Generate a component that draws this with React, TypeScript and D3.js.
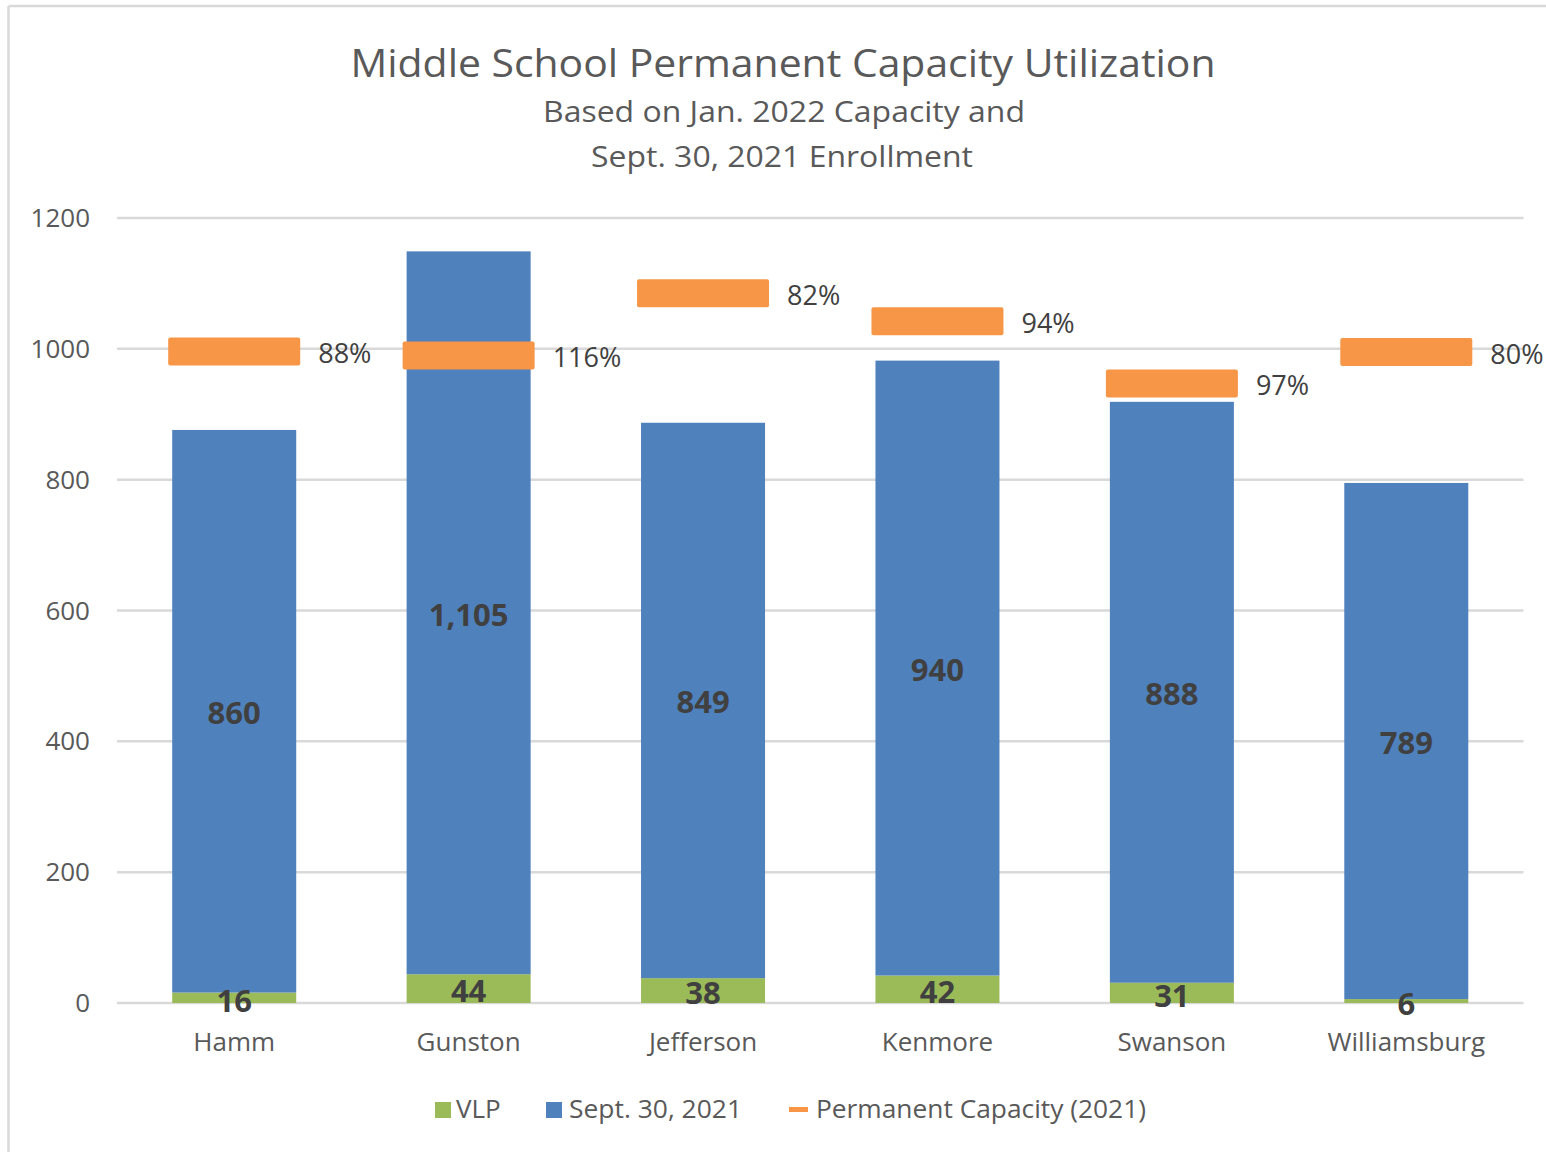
import React from "react";
import * as d3 from "d3";

const categories = ["Hamm", "Gunston", "Jefferson", "Kenmore", "Swanson", "Williamsburg"];
const vlp = [16, 44, 38, 42, 31, 6];
const enrollment = [860, 1105, 849, 940, 888, 789];
const capacity = [996, 990, 1085, 1042, 947, 995];
const utilization = ["88%", "116%", "82%", "94%", "97%", "80%"];
const yTicks = [0, 200, 400, 600, 800, 1000, 1200];

const W = 1546;
const H = 1152;
const plotLeft = 117;
const plotRight = 1523.5;
const plotTop = 218;
const plotBottom = 1003;

const BLUE = "#4F81BD";
const GREEN = "#9BBB59";
const ORANGE = "#F79646";
const GRID = "#D9D9D9";
const TXT = "#595959";
const LBL = "#404040";
const FONT = "'Open Sans', 'Noto Sans', sans-serif";

export default function App() {
  const x = d3
    .scaleBand<string>()
    .domain(categories)
    .range([plotLeft, plotRight])
    .paddingInner(0.471)
    .paddingOuter(0.2355);
  const y = d3.scaleLinear().domain([0, 1200]).range([plotBottom, plotTop]);
  const bw = x.bandwidth();
  const markerW = 132;
  const markerH = 28;

  return (
    <svg
      width={W}
      height={H}
      style={{ position: "absolute", left: 0, top: 0, background: "#fff" }}
      fontFamily={FONT}
    >
      <rect x={0} y={0} width={W} height={H} fill="#fff" />
      <line x1={8.5} y1={6} x2={W} y2={6} stroke="#D9D9D9" strokeWidth={2.5} />
      <line x1={8.5} y1={6} x2={8.5} y2={H} stroke="#D9D9D9" strokeWidth={2.5} />

      <text x={783} y={77} textAnchor="middle" fontSize={38} fill={TXT} textLength={865} lengthAdjust="spacingAndGlyphs">
        Middle School Permanent Capacity Utilization
      </text>
      <text x={784} y={122} textAnchor="middle" fontSize={30} fill={TXT} textLength={482} lengthAdjust="spacingAndGlyphs">
        Based on Jan. 2022 Capacity and
      </text>
      <text x={782} y={167} textAnchor="middle" fontSize={30} fill={TXT} textLength={382} lengthAdjust="spacingAndGlyphs">
        Sept. 30, 2021 Enrollment
      </text>

      {yTicks.map((t) => (
        <g key={t}>
          <line x1={plotLeft} x2={plotRight} y1={y(t)} y2={y(t)} stroke={GRID} strokeWidth={2.5} />
          <text x={90} y={y(t)} dy="0.35em" textAnchor="end" fontSize={26} fill={TXT}>
            {t}
          </text>
        </g>
      ))}

      {categories.map((c, i) => {
        const x0 = x(c)!;
        const vTop = y(vlp[i]);
        const eTop = y(vlp[i] + enrollment[i]);
        return (
          <g key={c}>
            <rect x={x0} y={vTop} width={bw} height={plotBottom - vTop} fill={GREEN} />
            <rect x={x0} y={eTop} width={bw} height={vTop - eTop} fill={BLUE} />
          </g>
        );
      })}

      {categories.map((c, i) => {
        const cx = x(c)! + bw / 2;
        const vMid = (y(0) + y(vlp[i])) / 2;
        const eMid = (y(vlp[i]) + y(vlp[i] + enrollment[i])) / 2;
        return (
          <g key={c + "l"} fontWeight="bold" fontSize={31} fill={LBL} textAnchor="middle">
            <text x={cx} y={vMid + 3} dy="0.35em">
              {d3.format(",")(vlp[i])}
            </text>
            <text x={cx} y={eMid + 2} dy="0.35em">
              {d3.format(",")(enrollment[i])}
            </text>
          </g>
        );
      })}

      {categories.map((c, i) => {
        const cx = x(c)! + bw / 2;
        const cy = y(capacity[i]);
        return (
          <g key={c + "m"}>
            <rect
              x={cx - markerW / 2}
              y={cy - markerH / 2}
              width={markerW}
              height={markerH}
              rx={2}
              fill={ORANGE}
            />
            <text x={cx + markerW / 2 + 18} y={cy + 2} dy="0.35em" fontSize={27} fill={LBL}>
              {utilization[i]}
            </text>
          </g>
        );
      })}

      {categories.map((c) => (
        <text key={c + "c"} x={x(c)! + bw / 2} y={1051} textAnchor="middle" fontSize={26} fill={TXT}>
          {c}
        </text>
      ))}

      <g fontSize={26} fill={TXT}>
        <rect x={435} y={1102} width={16} height={16} fill={GREEN} />
        <text x={456} y={1118}>VLP</text>
        <rect x={546} y={1102} width={16} height={16} fill={BLUE} />
        <text x={569} y={1118} textLength={173} lengthAdjust="spacingAndGlyphs">Sept. 30, 2021</text>
        <rect x={789} y={1107} width={19} height={5} fill={ORANGE} />
        <text x={816} y={1118} textLength={330} lengthAdjust="spacingAndGlyphs">Permanent Capacity (2021)</text>
      </g>
    </svg>
  );
}
